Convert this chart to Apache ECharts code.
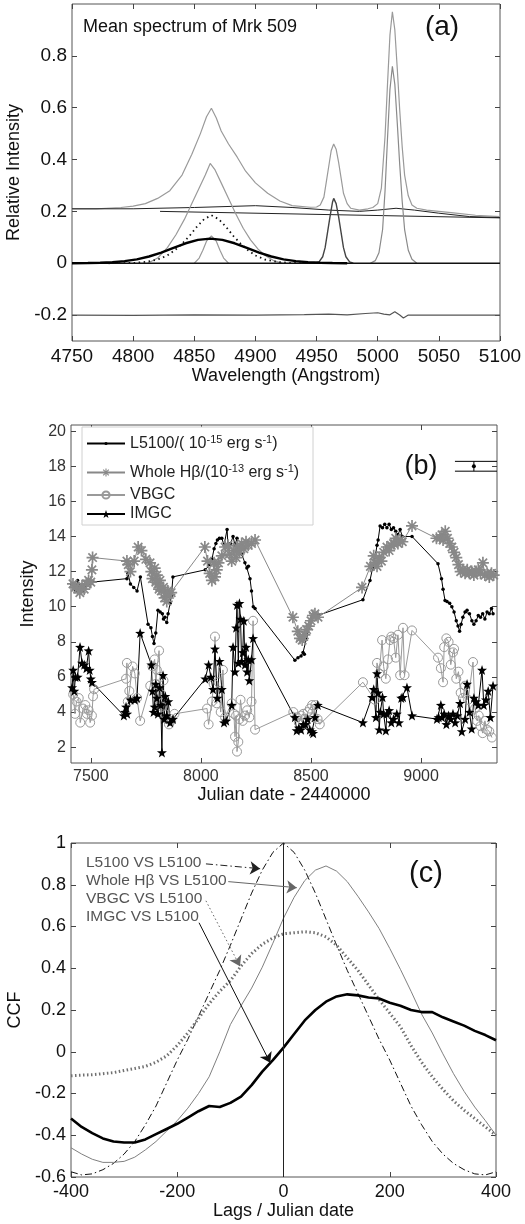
<!DOCTYPE html>
<html>
<head>
<meta charset="utf-8">
<script src="https://cdn.jsdelivr.net/npm/echarts@6/dist/echarts.min.js"></script>
<style>
  html, body { margin: 0; padding: 0; background: #fff; }
  #chart { width: 525px; height: 1224px; }
</style>
</head>
<body>
<div id="chart"></div>
<script>
  // ---------- panel (a): mean spectrum ----------
  const spectrum = [[4750,0.21],[4770,0.21],[4790,0.215],[4800,0.22],[4810,0.23],[4820,0.25],[4830,0.28],[4840,0.34],[4848,0.42],[4855,0.5],[4860,0.565],[4864,0.598],[4868,0.56],[4872,0.51],[4878,0.46],[4885,0.41],[4892,0.355],[4900,0.31],[4910,0.27],[4920,0.24],[4930,0.222],[4945,0.216],[4950,0.217],[4953,0.225],[4956,0.255],[4958,0.315],[4960,0.375],[4962,0.435],[4964,0.46],[4966,0.44],[4968,0.39],[4970,0.33],[4972,0.27],[4975,0.23],[4978,0.212],[4985,0.205],[4992,0.21],[4996,0.215],[5000,0.23],[5003,0.29],[5006,0.49],[5008,0.69],[5010,0.88],[5012,0.97],[5014,0.9],[5016,0.75],[5018,0.59],[5020,0.45],[5022,0.34],[5025,0.26],[5028,0.225],[5032,0.212],[5040,0.205],[5060,0.195],[5080,0.185],[5100,0.18]]
  const hbBroad = [[4812,0],[4820,0.02],[4828,0.06],[4835,0.11],[4842,0.17],[4848,0.23],[4854,0.29],[4859,0.34],[4863,0.385],[4867,0.36],[4872,0.31],[4878,0.25],[4884,0.19],[4890,0.135],[4896,0.09],[4902,0.055],[4908,0.03],[4915,0.01],[4922,0]]
  const hbNarrow = [[4850,0],[4854,0.02],[4857,0.05],[4860,0.085],[4864,0.105],[4868,0.085],[4871,0.05],[4874,0.02],[4878,0]]
  const imgcFit = [[4750,0],[4763,0.001],[4773,0.002],[4783,0.004],[4793,0.008],[4803,0.015],[4813,0.026],[4823,0.041],[4833,0.059],[4843,0.077],[4853,0.09],[4863,0.095],[4873,0.09],[4883,0.077],[4893,0.059],[4903,0.041],[4913,0.026],[4923,0.015],[4933,0.008],[4943,0.004],[4953,0.002],[4963,0.001],[4975,0]]
  const vbgcFit = [[4780,0],[4800,0.001],[4810,0.005],[4820,0.014],[4828,0.03],[4834,0.05],[4840,0.075],[4846,0.105],[4852,0.14],[4858,0.17],[4864,0.185],[4870,0.17],[4876,0.14],[4882,0.105],[4888,0.075],[4894,0.05],[4900,0.03],[4908,0.014],[4918,0.005],[4928,0.001],[4960,0]]
  const oiii4959 = [[4948,0],[4952,0.005],[4955,0.025],[4957,0.06],[4959,0.12],[4961,0.18],[4963,0.235],[4964,0.25],[4966,0.23],[4968,0.18],[4970,0.12],[4972,0.06],[4974,0.025],[4977,0.005],[4980,0]]
  const oiii5007 = [[4994,0],[4998,0.01],[5001,0.04],[5004,0.13],[5006,0.28],[5008,0.48],[5010,0.67],[5012,0.76],[5014,0.69],[5016,0.54],[5018,0.38],[5020,0.24],[5022,0.13],[5025,0.05],[5028,0.015],[5032,0]]
  const contFe = [[4750,0.21],[4800,0.21],[4850,0.215],[4900,0.222],[4930,0.215],[4960,0.205],[4985,0.2],[5000,0.205],[5015,0.212],[5030,0.205],[5050,0.193],[5075,0.18],[5100,0.176]]
  const contPow = [[4822,0.2],[5100,0.175]]
  const zeroLine = [[4750,0],[5100,0]]
  const residual = [[4750,-0.2],[4800,-0.201],[4850,-0.199],[4900,-0.2],[4940,-0.198],[4960,-0.196],[4975,-0.199],[4990,-0.194],[5000,-0.191],[5005,-0.196],[5010,-0.199],[5014,-0.187],[5018,-0.2],[5021,-0.211],[5025,-0.2],[5050,-0.2],[5100,-0.2]]
  const waveTicks = [4750, 4800, 4850, 4900, 4950, 5000, 5050, 5100]
  const relTicks = [-0.2, 0, 0.2, 0.4, 0.6, 0.8]

  // ---------- panel (b): light curves ----------
  const l5100 = [[7414,11.3],[7430,10.9],[7440,11.5],[7450,11.2],[7462,10.9],[7474,11.1],[7490,11.3],[7505,11.4],[7664,11.6],[7669,11.9],[7680,11.3],[7695,11.1],[7710,10.9],[7725,11.7],[7760,9.0],[7773,8.8],[7780,8.3],[7787,7.9],[7795,8.5],[7805,9.8],[7815,9.7],[7825,9.6],[7830,9.3],[7837,9.4],[7845,9.1],[7851,9.6],[7860,10.2],[7866,10.6],[7873,11.7],[8020,12.1],[8040,12.4],[8050,12.7],[8060,13.3],[8068,13.6],[8075,13.8],[8084,13.9],[8095,13.9],[8105,13.5],[8119,14.4],[8123,13.5],[8135,13.6],[8146,14.0],[8155,13.5],[8164,13.9],[8170,13.4],[8185,13.0],[8200,12.5],[8209,12.2],[8216,12.3],[8223,11.6],[8230,10.9],[8238,10.0],[8246,9.9],[8427,6.95],[8441,7.1],[8455,7.2],[8464,7.4],[8470,7.3],[8500,9.2],[8509,9.5],[8518,9.6],[8530,9.5],[8736,10.4],[8768,11.5],[8780,12.2],[8791,12.8],[8800,13.5],[8805,13.8],[8814,14.6],[8825,14.5],[8835,14.7],[8845,14.5],[8855,14.7],[8865,14.4],[8875,14.5],[8885,14.3],[8895,14.1],[8905,14.4],[8915,14.0],[8959,14.0],[9077,12.45],[9093,11.6],[9100,11.0],[9109,10.35],[9118,10.3],[9130,10.2],[9140,10.0],[9150,9.7],[9160,9.2],[9168,8.9],[9175,8.6],[9182,9.0],[9190,9.4],[9200,9.7],[9209,9.8],[9220,9.6],[9231,9.2],[9240,9.0],[9250,9.2],[9260,9.5],[9270,9.4],[9280,9.6],[9290,9.3],[9300,9.7],[9310,9.6],[9320,9.9],[9327,9.6]]
  const hbeta = [[7419,11.3],[7430,11.1],[7440,11.0],[7450,10.8],[7460,11.2],[7470,11.0],[7480,11.3],[7490,11.5],[7500,11.4],[7505,12.1],[7508,12.8],[7664,12.6],[7670,12.4],[7680,12.0],[7697,12.6],[7715,13.4],[7730,13.2],[7750,12.7],[7769,12.5],[7775,12.0],[7780,11.6],[7790,12.2],[7795,11.4],[7800,11.8],[7805,11.3],[7810,11.0],[7814,11.5],[7820,10.9],[7830,11.1],[7835,10.5],[7840,10.8],[7845,10.3],[7850,10.9],[7857,10.7],[7865,10.8],[8018,13.4],[8030,12.6],[8040,11.9],[8050,11.5],[8060,12.5],[8064,11.7],[8072,12.1],[8080,12.5],[8095,12.9],[8110,13.4],[8123,13.5],[8130,13.0],[8140,12.6],[8150,13.2],[8160,12.8],[8165,13.4],[8175,13.1],[8185,13.6],[8195,13.3],[8205,13.7],[8215,13.5],[8230,13.6],[8246,13.8],[8418,9.4],[8440,8.6],[8450,8.2],[8460,8.1],[8470,8.4],[8480,8.7],[8490,8.9],[8500,9.2],[8509,9.5],[8518,9.6],[8532,9.4],[8732,11.1],[8770,12.3],[8785,12.9],[8791,12.5],[8800,12.3],[8810,12.8],[8820,12.6],[8830,13.1],[8845,13.4],[8855,13.2],[8865,13.5],[8875,13.6],[8885,13.9],[8895,13.6],[8905,13.8],[8915,13.7],[8959,14.6],[9070,13.9],[9086,13.9],[9095,14.1],[9100,13.8],[9110,14.3],[9120,13.9],[9130,13.6],[9140,13.4],[9150,13.1],[9160,12.8],[9170,12.4],[9180,12.0],[9190,12.1],[9200,11.9],[9210,12.1],[9220,11.9],[9230,12.0],[9240,11.8],[9250,12.0],[9260,12.1],[9270,11.9],[9281,12.5],[9290,11.8],[9300,11.9],[9310,11.7],[9320,11.9],[9330,11.8]]
  const vbgc = [[7420,5.0],[7428,3.9],[7435,4.6],[7445,4.8],[7452,3.4],[7465,4.2],[7475,4.4],[7482,3.9],[7490,4.1],[7497,3.4],[7505,3.8],[7510,4.9],[7515,5.3],[7660,5.9],[7664,6.8],[7668,4.6],[7675,5.2],[7690,6.6],[7700,6.2],[7710,4.8],[7724,3.5],[7770,5.5],[7780,6.6],[7790,7.0],[7795,5.6],[7800,6.4],[7810,7.5],[7815,6.0],[7820,5.0],[7825,4.3],[7830,5.8],[7835,3.9],[7845,3.6],[7855,3.3],[7865,3.5],[7880,3.9],[8028,4.2],[8035,3.3],[8050,4.6],[8058,5.6],[8064,8.3],[8072,4.5],[8080,5.7],[8090,4.0],[8100,6.4],[8110,3.7],[8140,4.5],[8150,3.9],[8155,2.6],[8160,3.8],[8164,1.75],[8170,2.3],[8175,3.6],[8180,4.7],[8190,3.5],[8200,3.8],[8210,4.1],[8220,3.7],[8230,4.6],[8237,9.2],[8246,3.0],[8420,4.0],[8436,3.7],[8445,3.4],[8455,3.8],[8465,3.9],[8475,3.6],[8485,4.0],[8495,4.2],[8505,4.4],[8512,3.7],[8520,4.4],[8530,3.6],[8540,3.3],[8736,5.7],[8790,4.7],[8800,6.8],[8810,6.2],[8823,8.1],[8830,6.6],[8840,5.9],[8850,7.0],[8859,8.1],[8865,8.3],[8875,8.2],[8885,7.1],[8895,8.4],[8905,6.1],[8918,8.8],[8925,6.1],[8959,8.65],[9077,7.1],[9090,6.5],[9100,5.7],[9105,7.7],[9115,8.2],[9125,8.0],[9135,6.7],[9145,7.4],[9150,7.6],[9160,5.9],[9170,6.3],[9180,5.1],[9190,4.8],[9200,5.5],[9214,4.7],[9236,6.85],[9245,4.2],[9255,3.5],[9262,3.8],[9270,3.2],[9280,2.8],[9290,3.5],[9300,3.0],[9310,2.9],[9322,2.55]]
  const imgc = [[7415,5.4],[7420,6.4],[7425,5.2],[7430,6.0],[7440,6.0],[7451,7.7],[7460,6.8],[7470,6.7],[7480,6.5],[7490,7.5],[7495,6.4],[7500,5.9],[7505,5.7],[7650,3.8],[7655,4.0],[7660,4.3],[7665,3.9],[7680,4.7],[7700,4.7],[7710,4.8],[7724,8.5],[7775,6.7],[7780,5.2],[7785,4.0],[7790,4.3],[7795,5.6],[7800,4.8],[7805,3.9],[7812,5.4],[7818,4.4],[7823,1.7],[7828,6.1],[7833,3.6],[7838,4.9],[7845,3.8],[7852,4.6],[7860,3.4],[7873,3.6],[8020,5.9],[8035,6.7],[8045,6.0],[8055,5.3],[8064,7.6],[8075,4.8],[8085,6.9],[8095,5.3],[8105,3.4],[8115,3.5],[8140,4.4],[8146,7.7],[8155,6.3],[8160,8.8],[8164,10.1],[8170,6.8],[8175,10.2],[8180,9.3],[8185,6.9],[8190,7.4],[8195,9.2],[8200,6.7],[8205,7.7],[8210,6.3],[8215,7.0],[8220,5.8],[8230,7.0],[8237,8.2],[8427,3.7],[8435,2.95],[8445,3.1],[8455,3.0],[8465,3.3],[8475,3.3],[8485,3.6],[8495,3.0],[8505,2.9],[8510,2.8],[8518,3.7],[8531,4.4],[8736,3.4],[8777,4.85],[8785,5.3],[8795,3.7],[8800,6.2],[8805,5.1],[8810,3.0],[8815,4.0],[8825,4.85],[8830,3.9],[8840,2.95],[8845,3.9],[8855,4.1],[8865,3.4],[8875,3.6],[8890,3.9],[8900,3.4],[8910,4.8],[8918,4.85],[8936,5.4],[8959,3.8],[9072,3.6],[9080,3.7],[9090,4.4],[9095,3.7],[9105,3.9],[9115,3.3],[9125,3.8],[9135,3.6],[9145,3.9],[9155,3.4],[9165,3.8],[9177,4.5],[9185,2.9],[9200,3.6],[9209,5.6],[9220,4.0],[9230,3.05],[9240,4.8],[9250,4.6],[9260,4.4],[9277,6.4],[9285,4.4],[9295,4.7],[9305,5.2],[9315,3.7],[9327,5.5]]
  const errBar = { jd: 9240, y: 18, err: 0.28, capFrom: 9154, capTo: 9345 }
  const jdTicks = [7500, 8000, 8500, 9000]
  const intTicks = [2, 4, 6, 8, 10, 12, 14, 16, 18, 20]

  // ---------- panel (c): cross correlation ----------
  const ccfLags = [-400,-380,-360,-340,-320,-300,-280,-260,-240,-220,-200,-180,-160,-140,-120,-100,-80,-60,-40,-20,0,20,40,60,80,100,120,140,160,180,200,220,240,260,280,300,320,340,360,380,400]
  const acfL5100 = [-0.575,-0.59,-0.585,-0.565,-0.535,-0.49,-0.43,-0.35,-0.26,-0.15,-0.04,0.06,0.17,0.28,0.39,0.51,0.635,0.76,0.87,0.955,1,0.955,0.87,0.76,0.635,0.51,0.39,0.28,0.17,0.06,-0.04,-0.15,-0.26,-0.35,-0.43,-0.49,-0.535,-0.565,-0.585,-0.59,-0.575]
  const ccfHbeta = [-0.46,-0.49,-0.515,-0.53,-0.53,-0.525,-0.505,-0.47,-0.43,-0.38,-0.33,-0.27,-0.2,-0.12,0.0,0.13,0.22,0.305,0.405,0.52,0.64,0.74,0.82,0.87,0.89,0.865,0.815,0.745,0.67,0.59,0.495,0.395,0.29,0.18,0.09,-0.01,-0.105,-0.19,-0.265,-0.33,-0.4]
  const ccfVbgc = [-0.115,-0.112,-0.11,-0.105,-0.1,-0.09,-0.08,-0.07,-0.05,-0.02,0.03,0.09,0.16,0.23,0.29,0.34,0.41,0.47,0.515,0.545,0.565,0.57,0.575,0.57,0.55,0.51,0.45,0.39,0.32,0.25,0.185,0.12,0.03,-0.05,-0.12,-0.18,-0.235,-0.28,-0.32,-0.36,-0.4]
  const ccfImgc = [-0.32,-0.36,-0.39,-0.415,-0.43,-0.435,-0.435,-0.42,-0.395,-0.37,-0.345,-0.315,-0.285,-0.26,-0.265,-0.245,-0.215,-0.16,-0.095,-0.04,0.02,0.085,0.15,0.2,0.24,0.265,0.275,0.27,0.26,0.255,0.235,0.22,0.2,0.19,0.19,0.165,0.145,0.125,0.1,0.08,0.055]
  const lagTicks = [-400, -200, 0, 200, 400]
  // annotation arrows: [label end, arrow tip] in (lag, ccf)
  const arrowAcf = [[-146, 0.9], [-44, 0.877]]
  const arrowHb = [[-104, 0.815], [25, 0.786]]
  const arrowVb = [[-146, 0.723], [-82, 0.41]]
  const arrowIm = [[-159, 0.618], [-25, -0.053]]

  const FONT = '"Liberation Sans", Arial, Helvetica, sans-serif'
  const pair = (xs, ys) => xs.map((x, i) => [x, ys[i]])

  // bottom/left axis with labels + mirrored top/right axis with ticks only
  function axisPair (grid, dir, min, max, ticks, fs, color, name, gap) {
    const base = {
      type: 'value', gridIndex: grid, min: min, max: max,
      splitLine: { show: false },
      axisLine: { show: false, onZero: false },
      axisTick: { show: true, inside: true, length: 5, customValues: ticks, lineStyle: { color: '#444' } }
    }
    const main = Object.assign({}, base, {
      position: dir === 'x' ? 'bottom' : 'left',
      name: name, nameLocation: 'middle', nameGap: gap,
      nameTextStyle: { fontFamily: FONT, fontSize: 18, color: '#111' },
      axisLabel: {
        show: true, customValues: ticks, fontFamily: FONT, fontSize: fs, color: color,
        margin: dir === 'x' ? 6 : 5,
        formatter: v => String(Math.round(v * 100) / 100)
      }
    })
    const mirror = Object.assign({}, base, {
      position: dir === 'x' ? 'top' : 'right',
      axisLabel: { show: false }
    })
    return [main, mirror]
  }

  const grids = [
    { left: 72, top: 4, width: 428, height: 337 },
    { left: 71, top: 425, width: 426, height: 338 },
    { left: 71, top: 843, width: 425, height: 334 }
  ].map(g => Object.assign(g, { show: true, borderColor: '#555', borderWidth: 1, backgroundColor: '#fff', containLabel: false, outerBoundsMode: 'none' }))

  const xAxes = [].concat(
    axisPair(0, 'x', 4750, 5100, waveTicks, 19, '#111', 'Wavelength (Angstrom)', 25),
    axisPair(1, 'x', 7410, 9345, jdTicks, 16, '#333', 'Julian date - 2440000', 19),
    axisPair(2, 'x', -400, 400, lagTicks, 18, '#111', 'Lags / Julian date', 18)
  )
  const yAxes = [].concat(
    axisPair(0, 'y', -0.3, 1.0, relTicks, 19, '#111', 'Relative Intensity', 35),
    axisPair(1, 'y', 1.1, 20.35, intTicks, 16, '#333', 'Intensity', 22),
    axisPair(2, 'y', -0.6, 1, [-0.6, -0.4, -0.2, 0, 0.2, 0.4, 0.6, 0.8, 1], 18, '#111', 'CCF', 46)
  )

  function line (ax, data, color, width, type, extra) {
    return Object.assign({
      type: 'line', xAxisIndex: ax, yAxisIndex: ax, data: data,
      showSymbol: false, symbol: 'none', silent: true, animation: false,
      lineStyle: { color: color, width: width, type: type || 'solid' }
    }, extra || {})
  }

  const ASTER = 'path://M-0.7,-5L0.7,-5L0.7,5L-0.7,5ZM-5,-0.7L5,-0.7L5,0.7L-5,0.7ZM-4,-3L-3,-4L4,3L3,4ZM3,-4L4,-3L-3,4L-4,3Z'
  const STAR = 'path://M0,-10L2.35,-3.24L9.51,-3.09L3.8,1.24L5.88,8.09L0,4L-5.88,8.09L-3.8,1.24L-9.51,-3.09L-2.35,-3.24Z'

  function pts (data, name, lineColor, symbol, size, itemStyle) {
    return {
      type: 'line', name: name, xAxisIndex: 2, yAxisIndex: 2, data: data,
      symbol: symbol, symbolSize: size, showSymbol: true, showAllSymbol: true,
      animation: false, silent: true,
      lineStyle: { color: lineColor, width: 1 },
      itemStyle: itemStyle
    }
  }

  function arrow (seg, color, type) {
    return {
      symbol: ['none', 'arrow'], symbolSize: 10, silent: true, animation: false,
      label: { show: false },
      lineStyle: { color: color, width: 1, type: type },
      itemStyle: { color: color },
      data: [[{ coord: seg[0] }, { coord: seg[1] }]]
    }
  }

  const series = [
    // (a)
    line(0, spectrum, '#9a9a9a', 1.2),
    line(0, contFe, '#222', 1),
    line(0, contPow, '#222', 1),
    line(0, hbBroad, '#9a9a9a', 1.2),
    line(0, hbNarrow, '#9a9a9a', 1.2),
    line(0, oiii5007, '#8a8a8a', 1.2),
    line(0, oiii4959, '#444', 1.4),
    line(0, zeroLine, '#111', 1.6),
    line(0, vbgcFit, '#111', 1.8, [1.5, 3.5]),
    line(0, imgcFit, '#000', 2.4),
    line(0, residual, '#555', 1.2),
    // (b)
    pts(l5100, 'L5100', '#000', 'circle', 3.5, { color: '#000' }),
    pts(hbeta, 'Whole Hb', '#888', ASTER, 12, { color: '#888' }),
    pts(vbgc, 'VBGC', '#9a9a9a', 'circle', 9, { color: 'rgba(0,0,0,0)', borderColor: '#999', borderWidth: 1 }),
    pts(imgc, 'IMGC', '#000', STAR, 10, { color: '#000' }),
    line(2, [[errBar.capFrom, errBar.y + errBar.err], [errBar.capTo, errBar.y + errBar.err]], '#000', 1),
    line(2, [[errBar.capFrom, errBar.y - errBar.err], [errBar.capTo, errBar.y - errBar.err]], '#000', 1),
    line(2, [[errBar.jd, errBar.y - errBar.err], [errBar.jd, errBar.y + errBar.err]], '#000', 1),
    line(2, [[errBar.jd, errBar.y]], '#000', 1, 'solid', { showSymbol: true, symbol: 'circle', symbolSize: 4, itemStyle: { color: '#000' } }),
    // (c)
    line(4, pair(ccfLags, acfL5100), '#111', 1, [7, 3, 1.5, 3], { markLine: arrow(arrowAcf, '#222', [7, 3, 1.5, 3]) }),
    line(4, pair(ccfLags, ccfHbeta), '#808080', 1, 'solid', { markLine: arrow(arrowHb, '#666', 'solid') }),
    line(4, pair(ccfLags, ccfVbgc), '#707070', 3, [1.5, 2.5], { markLine: arrow(arrowVb, '#666', [1.5, 2.5]) }),
    line(4, pair(ccfLags, ccfImgc), '#000', 2.6, 'solid', { markLine: arrow(arrowIm, '#111', 'solid') }),
    line(4, [[0, -0.6], [0, 1]], '#222', 1)
  ]

  const legendText = {
    'L5100': 'L5100/( 10{sup|-15} erg s{sup|-1})',
    'Whole Hb': 'Whole H\u03b2/(10{sup|-13} erg s{sup|-1})',
    'VBGC': 'VBGC',
    'IMGC': 'IMGC'
  }
  const legendNames = ['L5100', 'Whole Hb', 'VBGC', 'IMGC']
  const legendTops = [434, 463, 487, 506]
  const legendIcon = [4, 10, 9, 10]
  const legends = legendNames.map((n, i) => ({
    data: [n], left: 86, top: legendTops[i], orient: 'vertical',
    selectedMode: false, itemWidth: 38, itemHeight: legendIcon[i], padding: 0, z: 10,
    formatter: name => legendText[name],
    textStyle: {
      fontFamily: FONT, fontSize: 16, color: '#222',
      rich: { sup: { fontFamily: FONT, fontSize: 11, color: '#222', verticalAlign: 'bottom', padding: [0, 0, 8, 0] } }
    }
  }))

  const txt = (x, y, s, size, color, align) => ({
    type: 'text', x: x, y: y, z: 20, silent: true,
    style: { text: s, font: size + 'px ' + FONT, fill: color || '#111', align: align || 'left', verticalAlign: 'middle' }
  })

  const graphic = [
    { type: 'rect', shape: { x: 82, y: 427, width: 231, height: 98 }, style: { fill: '#fff', stroke: '#d0d0d0', lineWidth: 1 }, z: 5, silent: true },
    txt(83, 27, 'Mean spectrum of Mrk 509', 18, '#111'),
    txt(442, 27, '(a)', 28, '#111', 'center'),
    txt(421, 467, '(b)', 27, '#111', 'center'),
    txt(426, 874, '(c)', 29, '#111', 'center'),
    txt(86, 863, 'L5100 VS L5100', 15.5, '#555'),
    txt(86, 881, 'Whole H\u03b2 VS L5100', 15.5, '#555'),
    txt(86, 899, 'VBGC VS L5100', 15.5, '#555'),
    txt(86, 917, 'IMGC VS L5100', 15.5, '#555')
  ]

  const chart = echarts.init(document.getElementById('chart'), null, { renderer: 'canvas' })
  chart.setOption({
    backgroundColor: '#fff',
    animation: false,
    grid: grids,
    xAxis: xAxes,
    yAxis: yAxes,
    legend: legends,
    graphic: graphic,
    series: series
  })
</script>
</body>
</html>
